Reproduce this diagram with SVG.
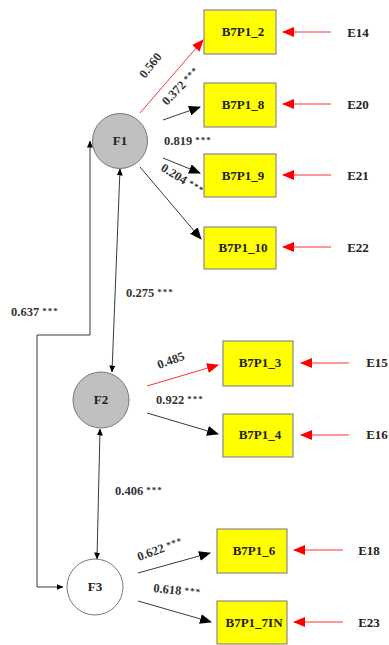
<svg xmlns="http://www.w3.org/2000/svg" width="389" height="645" viewBox="0 0 389 645">
  <style>
    .box { fill: #ffff00; stroke: #8a8a8a; stroke-width: 1.2; }
    .lat { stroke: #777; stroke-width: 1; }
    .t { font-family: "Liberation Serif", "Times New Roman", serif; font-weight: bold; font-size: 13px; fill: #222; }
    .n { font-family: "Liberation Serif", "Times New Roman", serif; font-weight: bold; font-size: 12.5px; fill: #333; }
    .s { font-size: 9px; letter-spacing: 1px; }
    .blk { stroke: #222; stroke-width: 0.9; fill: none; }
    .red { stroke: #ff3030; stroke-width: 1; fill: none; }
  </style>
  <defs>
    <marker id="ab" markerUnits="userSpaceOnUse" markerWidth="12" markerHeight="10" refX="11" refY="5" orient="auto">
      <path d="M0,0 L12,5 L0,10 Z" fill="#000"/>
    </marker>
    <marker id="ar" markerUnits="userSpaceOnUse" markerWidth="12" markerHeight="10" refX="11" refY="5" orient="auto">
      <path d="M0,0 L12,5 L0,10 Z" fill="#ff0000"/>
    </marker>
    <marker id="sb" markerUnits="userSpaceOnUse" markerWidth="7" markerHeight="6" refX="6.5" refY="3" orient="auto">
      <path d="M0,0 L7,3 L0,6 Z" fill="#000"/>
    </marker>
    <marker id="sbs" markerUnits="userSpaceOnUse" markerWidth="7" markerHeight="6" refX="0.5" refY="3" orient="auto">
      <path d="M7,0 L0,3 L7,6 Z" fill="#000"/>
    </marker>
  </defs>

  <g id="connectors">
    <!-- F1 loadings -->
    <line class="red" x1="140" y1="113" x2="203" y2="40" marker-end="url(#ar)"/>
    <line class="blk" x1="163" y1="120" x2="200" y2="107" marker-end="url(#ab)"/>
    <line class="blk" x1="163" y1="158" x2="200" y2="173" marker-end="url(#ab)"/>
    <line class="blk" x1="140" y1="167" x2="201" y2="239" marker-end="url(#ab)"/>
    <!-- F2 loadings -->
    <line class="red" x1="147" y1="386" x2="218" y2="365" marker-end="url(#ar)"/>
    <line class="blk" x1="147" y1="413" x2="218" y2="434" marker-end="url(#ab)"/>
    <!-- F3 loadings -->
    <line class="blk" x1="138" y1="573" x2="210" y2="553" marker-end="url(#ab)"/>
    <line class="blk" x1="138" y1="601" x2="211" y2="622" marker-end="url(#ab)"/>
    <!-- error terms -->
    <line class="red" x1="331" y1="32" x2="283" y2="32" marker-end="url(#ar)"/>
    <line class="red" x1="331" y1="104" x2="283" y2="104" marker-end="url(#ar)"/>
    <line class="red" x1="331" y1="175" x2="283" y2="175" marker-end="url(#ar)"/>
    <line class="red" x1="331" y1="247" x2="283" y2="247" marker-end="url(#ar)"/>
    <line class="red" x1="349" y1="363" x2="301" y2="363" marker-end="url(#ar)"/>
    <line class="red" x1="349" y1="435" x2="301" y2="435" marker-end="url(#ar)"/>
    <line class="red" x1="343" y1="550" x2="294" y2="550" marker-end="url(#ar)"/>
    <line class="red" x1="343" y1="622" x2="294" y2="622" marker-end="url(#ar)"/>
    <!-- covariances -->
    <line class="blk" x1="120" y1="169" x2="112" y2="372" marker-start="url(#sbs)" marker-end="url(#sb)"/>
    <line class="blk" x1="100" y1="429" x2="97" y2="559" marker-start="url(#sbs)" marker-end="url(#sb)"/>
    <polyline class="blk" points="63,587 37,587 37,335 90,335 90,141" marker-start="url(#sbs)" marker-end="url(#sb)"/>
  </g>

  <g id="labels">
    <text class="n" transform="translate(145,79) rotate(-52)">0.560</text>
    <text class="n" transform="translate(167,106) rotate(-46)">0.372 <tspan class="s" dy="-2">***</tspan></text>
    <text class="n" x="164" y="145">0.819 <tspan class="s" dy="-2">***</tspan></text>
    <text class="n" transform="translate(160,170) rotate(32)">0.204 <tspan class="s" dy="-2">***</tspan></text>
    <text class="n" x="126" y="297">0.275 <tspan class="s" dy="-2">***</tspan></text>
    <text class="n" x="11" y="316">0.637 <tspan class="s" dy="-2">***</tspan></text>
    <text class="n" transform="translate(159,369) rotate(-20)">0.485</text>
    <text class="n" x="156" y="404">0.922 <tspan class="s" dy="-2">***</tspan></text>
    <text class="n" x="115" y="495">0.406 <tspan class="s" dy="-2">***</tspan></text>
    <text class="n" transform="translate(139,561) rotate(-20)">0.622 <tspan class="s" dy="-2">***</tspan></text>
    <text class="n" transform="translate(153,592) rotate(6)">0.618 <tspan class="s" dy="-2">***</tspan></text>
  </g>

  <g id="F1">
    <circle class="lat" cx="120" cy="141" r="27.5" fill="#c0c0c0"/>
    <text class="t" x="120" y="145" text-anchor="middle">F1</text>
  </g>
  <g id="F2">
    <circle class="lat" cx="101" cy="400" r="28" fill="#c0c0c0"/>
    <text class="t" x="101" y="404" text-anchor="middle">F2</text>
  </g>
  <g id="F3">
    <circle class="lat" cx="95" cy="587" r="28" fill="#ffffff"/>
    <text class="t" x="95" y="591" text-anchor="middle">F3</text>
  </g>

  <g id="B7P1_2"><rect class="box" x="204" y="10" width="72" height="44"/><text class="t" x="243" y="36" text-anchor="middle">B7P1_2</text></g>
  <g id="B7P1_8"><rect class="box" x="204" y="83" width="72" height="44"/><text class="t" x="243" y="109" text-anchor="middle">B7P1_8</text></g>
  <g id="B7P1_9"><rect class="box" x="204" y="154" width="72" height="43"/><text class="t" x="243" y="180" text-anchor="middle">B7P1_9</text></g>
  <g id="B7P1_10"><rect class="box" x="204" y="227" width="72" height="42"/><text class="t" x="243" y="252" text-anchor="middle">B7P1_10</text></g>
  <g id="B7P1_3"><rect class="box" x="223" y="341" width="70" height="45"/><text class="t" x="260" y="367" text-anchor="middle">B7P1_3</text></g>
  <g id="B7P1_4"><rect class="box" x="223" y="414" width="70" height="43"/><text class="t" x="260" y="439" text-anchor="middle">B7P1_4</text></g>
  <g id="B7P1_6"><rect class="box" x="217" y="529" width="70" height="44"/><text class="t" x="254" y="555" text-anchor="middle">B7P1_6</text></g>
  <g id="B7P1_7IN"><rect class="box" x="217" y="601" width="70" height="43"/><text class="t" x="254" y="627" text-anchor="middle">B7P1_7IN</text></g>

  <g id="E14"><text class="t" x="358" y="37" text-anchor="middle">E14</text></g>
  <g id="E20"><text class="t" x="358" y="109" text-anchor="middle">E20</text></g>
  <g id="E21"><text class="t" x="358" y="180" text-anchor="middle">E21</text></g>
  <g id="E22"><text class="t" x="358" y="252" text-anchor="middle">E22</text></g>
  <g id="E15"><text class="t" x="377" y="367" text-anchor="middle">E15</text></g>
  <g id="E16"><text class="t" x="377" y="439" text-anchor="middle">E16</text></g>
  <g id="E18"><text class="t" x="369" y="555" text-anchor="middle">E18</text></g>
  <g id="E23"><text class="t" x="369" y="627" text-anchor="middle">E23</text></g>
</svg>
